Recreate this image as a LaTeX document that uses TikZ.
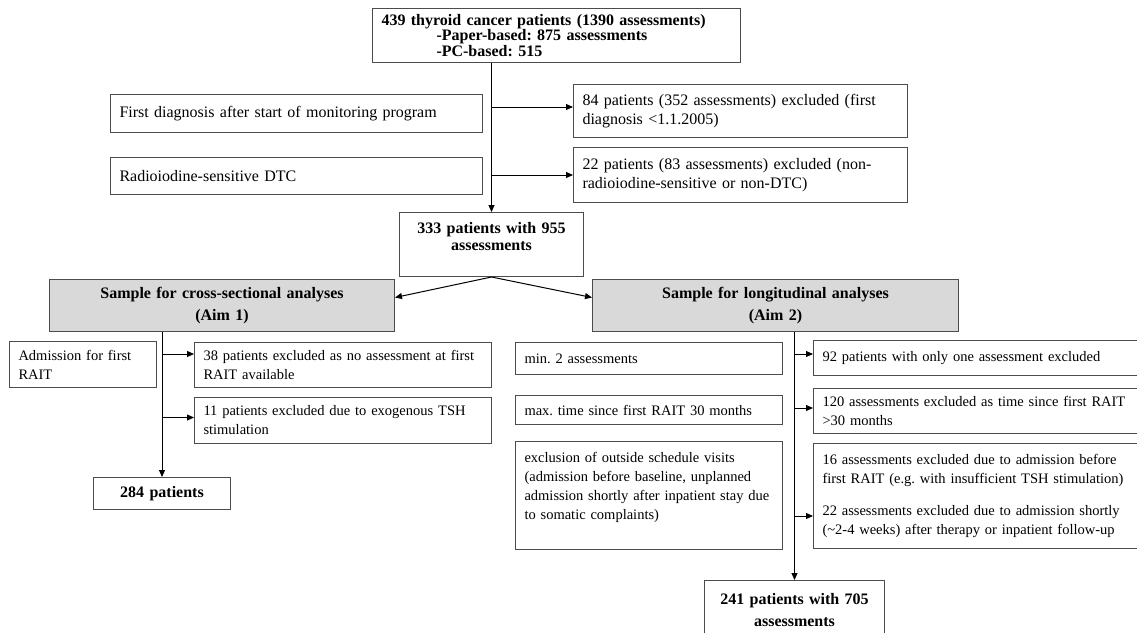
\documentclass[tikz,border=0pt]{standalone}
\usepackage{fontspec}
\setmainfont{Liberation Serif}
\usetikzlibrary{arrows.meta}
\definecolor{aimgray}{RGB}{217,217,217}
\frenchspacing

\begin{document}
\begin{tikzpicture}[
  x=1pt, y=-1pt,
  box/.style={draw=black!70, line width=1pt, anchor=north west, align=left,
    inner xsep=9pt, inner ysep=4pt, font=\fontsize{14.5}{19}\selectfont},
  bigbox/.style={box, font=\fontsize{16}{19}\selectfont},
  boldbox/.style={box, align=center, font=\fontsize{16}{17}\selectfont\bfseries},
  aimbox/.style={boldbox, fill=aimgray, font=\fontsize{16}{22}\selectfont\bfseries},
  arrow/.style={-{Triangle[length=7pt,width=6pt]}, line width=1pt, black}
]
\clip (0,0) rectangle (1137,632);

\node[boldbox, align=left, text width=350pt, minimum height=54pt, font=\fontsize{16}{15.5}\selectfont\bfseries] (total) at (372,8)
  {439 thyroid cancer patients (1390 assessments)\\\hspace*{55pt}-Paper-based: 875 assessments\\\hspace*{55pt}-PC-based: 515};

\node[bigbox, text width=354pt, minimum height=38pt] (firstdiag) at (110,94) {First diagnosis after start of monitoring program};
\node[bigbox, text width=354pt, minimum height=37pt] (radio) at (110,157) {Radioiodine-sensitive DTC};
\node[bigbox, text width=316pt, minimum height=53pt] (ex84) at (573,84)
  {84 patients (352 assessments) excluded (first\\diagnosis <1.1.2005)};
\node[bigbox, text width=316pt, minimum height=55pt] (ex22) at (573,147)
  {22 patients (83 assessments) excluded (non-\\radioiodine-sensitive or non-DTC)};

\node[boldbox, text width=166pt, minimum height=64pt] (mid) at (399,212) {333 patients with 955\\assessments\\\mbox{}};

\node[aimbox, text width=327pt, minimum height=52pt] (crossbox) at (49,279) {Sample for cross-sectional analyses\\(Aim 1)};
\node[aimbox, text width=348pt, minimum height=52pt] (longbox) at (592,279) {Sample for longitudinal analyses\\(Aim 2)};

\node[box, text width=129pt, minimum height=46pt] (admit) at (9,341) {Admission for first\\RAIT};
\node[box, text width=279pt, minimum height=45pt] (ex38) at (194,342)
  {38 patients excluded as no assessment at first\\RAIT available};
\node[box, text width=279pt, minimum height=46pt] (ex11) at (194,397)
  {11 patients excluded due to exogenous TSH\\stimulation};
\node[boldbox, text width=119pt, minimum height=32pt] (pat284) at (93,477) {284 patients};

\node[box, text width=249pt, minimum height=32pt] (mintwo) at (515,342) {min. 2 assessments};
\node[box, text width=249pt, minimum height=29pt] (maxtime) at (515,395) {max. time since first RAIT 30 months};
\node[box, text width=249pt, minimum height=108pt] (visits) at (515,441)
  {exclusion of outside schedule visits\\(admission before baseline, unplanned\\admission shortly after inpatient stay due\\to somatic complaints)\\\mbox{}};
\node[box, text width=322pt, minimum height=35pt] (ex92) at (813,340) {92 patients with only one assessment excluded};
\node[box, text width=322pt, minimum height=45pt] (ex120) at (813,388)
  {120 assessments excluded as time since first RAIT\\>30 months};
\node[box, text width=322pt, minimum height=105pt] (ex16) at (813,443)
  {16 assessments excluded due to admission before\\first RAIT (e.g. with insufficient TSH stimulation)\\[13pt]22 assessments excluded due to admission shortly\\(\textasciitilde2-4 weeks) after therapy or inpatient follow-up};
\node[aimbox, fill=none, text width=162pt, minimum height=60pt] (pat241) at (704,580) {241 patients with 705\\assessments};

\draw[arrow] (total.south -| mid.north) -- (mid.north);
\draw[arrow] ([yshift=4pt]ex84.west -| mid.north) -- ([yshift=4pt]ex84.west);
\draw[arrow] (ex22.west -| mid.north) -- (ex22.west);
\draw[arrow] (mid.south) -- ([yshift=8pt]crossbox.east);
\draw[arrow] (mid.south) -- ([yshift=8pt]longbox.west);

\draw[arrow] (crossbox.south -| pat284.north) -- (pat284.north);
\draw[arrow] ([yshift=11pt]ex38.west -| pat284.north) -- ([yshift=11pt]ex38.west);
\draw[arrow] ([yshift=3pt]ex11.west -| pat284.north) -- ([yshift=3pt]ex11.west);

\draw[arrow] (longbox.south -| pat241.north) -- (pat241.north);
\draw[arrow] ([yshift=4pt]ex92.west -| pat241.north) -- ([yshift=4pt]ex92.west);
\draw[arrow] ([yshift=3pt]ex120.west -| pat241.north) -- ([yshift=3pt]ex120.west);
\draw[arrow] ([yshift=-20pt]ex16.west -| pat241.north) -- ([yshift=-20pt]ex16.west);
\end{tikzpicture}
\end{document}
